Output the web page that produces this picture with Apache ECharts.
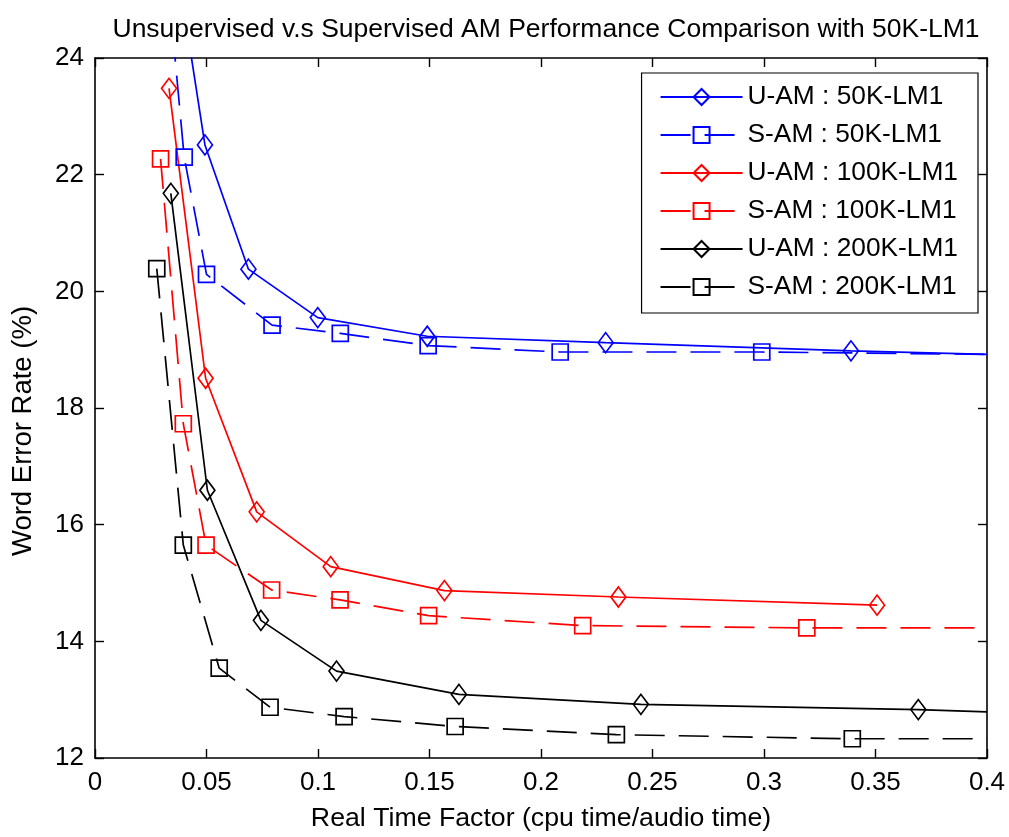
<!DOCTYPE html>
<html>
<head>
<meta charset="utf-8">
<title>AM Performance Comparison</title>
<script src="https://cdn.jsdelivr.net/npm/echarts@6/dist/echarts.min.js"></script>
<style>
  html, body { margin: 0; padding: 0; background: #fff; }
  #chart { width: 1009px; height: 837px; }
</style>
</head>
<body>
<div id="chart"></div>
<script>
// 数据
const seriesNames = [
    'U-AM : 50K-LM1', 'S-AM : 50K-LM1',
    'U-AM : 100K-LM1', 'S-AM : 100K-LM1',
    'U-AM : 200K-LM1', 'S-AM : 200K-LM1'
];

const uam50kX = [0.038, 0.0493, 0.0688, 0.0999, 0.149, 0.229, 0.339, 0.4];
const uam50kY = [25.3, 22.51, 20.38, 19.55, 19.23, 19.12, 18.98, 18.92];

const sam50kX = [0.033, 0.04, 0.05, 0.0794, 0.11, 0.1494, 0.2086, 0.299, 0.4];
const sam50kY = [25.2, 22.30, 20.29, 19.42, 19.28, 19.07, 18.96, 18.96, 18.92];

const uam100kX = [0.0332, 0.0496, 0.0725, 0.1057, 0.1567, 0.2347, 0.3507];
const uam100kY = [23.48, 18.51, 16.22, 15.28, 14.87, 14.76, 14.62];

const sam100kX = [0.0294, 0.0396, 0.0498, 0.0792, 0.1099, 0.1496, 0.2187, 0.3192, 0.4];
const sam100kY = [22.27, 17.73, 15.65, 14.88, 14.71, 14.44, 14.27, 14.23, 14.23];

const uam200kX = [0.034, 0.0504, 0.0744, 0.1083, 0.1632, 0.2448, 0.3692, 0.4];
const uam200kY = [21.68, 16.59, 14.36, 13.49, 13.09, 12.92, 12.83, 12.79];

const sam200kX = [0.0277, 0.0396, 0.0557, 0.0785, 0.1117, 0.1615, 0.2338, 0.3396, 0.4];
const sam200kY = [20.39, 15.65, 13.54, 12.87, 12.71, 12.54, 12.40, 12.33, 12.33];

const xTicks = [0, 0.05, 0.1, 0.15, 0.2, 0.25, 0.3, 0.35, 0.4];
const yTicks = [12, 14, 16, 18, 20, 22, 24];

const FONT = '"Liberation Sans", Arial, sans-serif';

// 组装数据：落在右边框上的末点不画标记
function makeData(xs, ys) {
    return xs.map((x, i) => {
        const item = { value: [x, ys[i]] };
        if (x >= 0.4) item.symbol = 'none';
        return item;
    });
}

function makeSeries(name, xs, ys, color, dashed, marker) {
    return {
        name: name,
        type: 'line',
        data: makeData(xs, ys),
        symbol: marker === 'diamond' ? 'diamond' : 'rect',
        symbolSize: marker === 'diamond' ? [15, 20] : [16, 16],
        showAllSymbol: true,
        clip: true,
        lineStyle: { color: color, width: 1.7, type: dashed ? [30, 14] : 'solid' },
        itemStyle: { color: 'rgba(255,255,255,0)', borderColor: color, borderWidth: 1.7 },
        emphasis: { disabled: true },
        z: 2
    };
}

const axisCommon = {
    axisLine: { show: true, onZero: false, lineStyle: { color: '#000', width: 1.6 } },
    axisTick: { show: true, inside: true, length: 9, lineStyle: { color: '#000', width: 1.4 } },
    splitLine: { show: false }
};

const myChart = echarts.init(document.getElementById('chart'), null, { renderer: 'canvas' });

const option = {
    backgroundColor: '#fff',
    animation: false,
    title: {
        text: 'Unsupervised v.s Supervised AM Performance Comparison with 50K-LM1',
        left: 541,
        top: 11,
        textAlign: 'center',
        textStyle: { fontFamily: FONT, fontSize: 26.5, fontWeight: 'normal', color: '#000' }
    },
    legend: {
        orient: 'vertical',
        right: 31,
        top: 73,
        data: seriesNames,
        itemWidth: 82,
        itemHeight: 20,
        itemGap: 12,
        padding: [11, 20, 13, 18],
        backgroundColor: '#fff',
        borderColor: '#000',
        borderWidth: 1.2,
        borderRadius: 0,
        textStyle: { fontFamily: FONT, fontSize: 26.3, lineHeight: 26, color: '#000' },
        selectedMode: false
    },
    grid: { left: 95, right: 22, top: 58, bottom: 77, containLabel: false },
    xAxis: [
        Object.assign({}, axisCommon, {
            type: 'value',
            position: 'bottom',
            min: xTicks[0],
            max: xTicks[xTicks.length - 1],
            interval: xTicks[1] - xTicks[0],
            name: 'Real Time Factor (cpu time/audio time)',
            nameLocation: 'middle',
            nameGap: 47,
            nameTextStyle: { fontFamily: FONT, fontSize: 26.7, color: '#000' },
            axisLabel: { fontFamily: FONT, fontSize: 26, color: '#000', margin: 12 }
        }),
        Object.assign({}, axisCommon, {
            type: 'value',
            position: 'top',
            min: xTicks[0],
            max: xTicks[xTicks.length - 1],
            interval: xTicks[1] - xTicks[0],
            axisLabel: { show: false }
        })
    ],
    yAxis: [
        Object.assign({}, axisCommon, {
            type: 'value',
            position: 'left',
            min: yTicks[0],
            max: yTicks[yTicks.length - 1],
            interval: yTicks[1] - yTicks[0],
            name: 'Word Error Rate (%)',
            nameLocation: 'middle',
            nameGap: 58,
            nameTextStyle: { fontFamily: FONT, fontSize: 27.5, color: '#000', padding: [0, 46, 0, 0] },
            axisLabel: { fontFamily: FONT, fontSize: 26, color: '#000', margin: 11 }
        }),
        Object.assign({}, axisCommon, {
            type: 'value',
            position: 'right',
            min: yTicks[0],
            max: yTicks[yTicks.length - 1],
            interval: yTicks[1] - yTicks[0],
            axisLabel: { show: false }
        })
    ],
    series: [
        makeSeries(seriesNames[0], uam50kX, uam50kY, '#0000ff', false, 'diamond'),
        makeSeries(seriesNames[1], sam50kX, sam50kY, '#0000ff', true, 'square'),
        makeSeries(seriesNames[2], uam100kX, uam100kY, '#ff0000', false, 'diamond'),
        makeSeries(seriesNames[3], sam100kX, sam100kY, '#ff0000', true, 'square'),
        makeSeries(seriesNames[4], uam200kX, uam200kY, '#000000', false, 'diamond'),
        makeSeries(seriesNames[5], sam200kX, sam200kY, '#000000', true, 'square')
    ]
};

myChart.setOption(option);
</script>
</body>
</html>
